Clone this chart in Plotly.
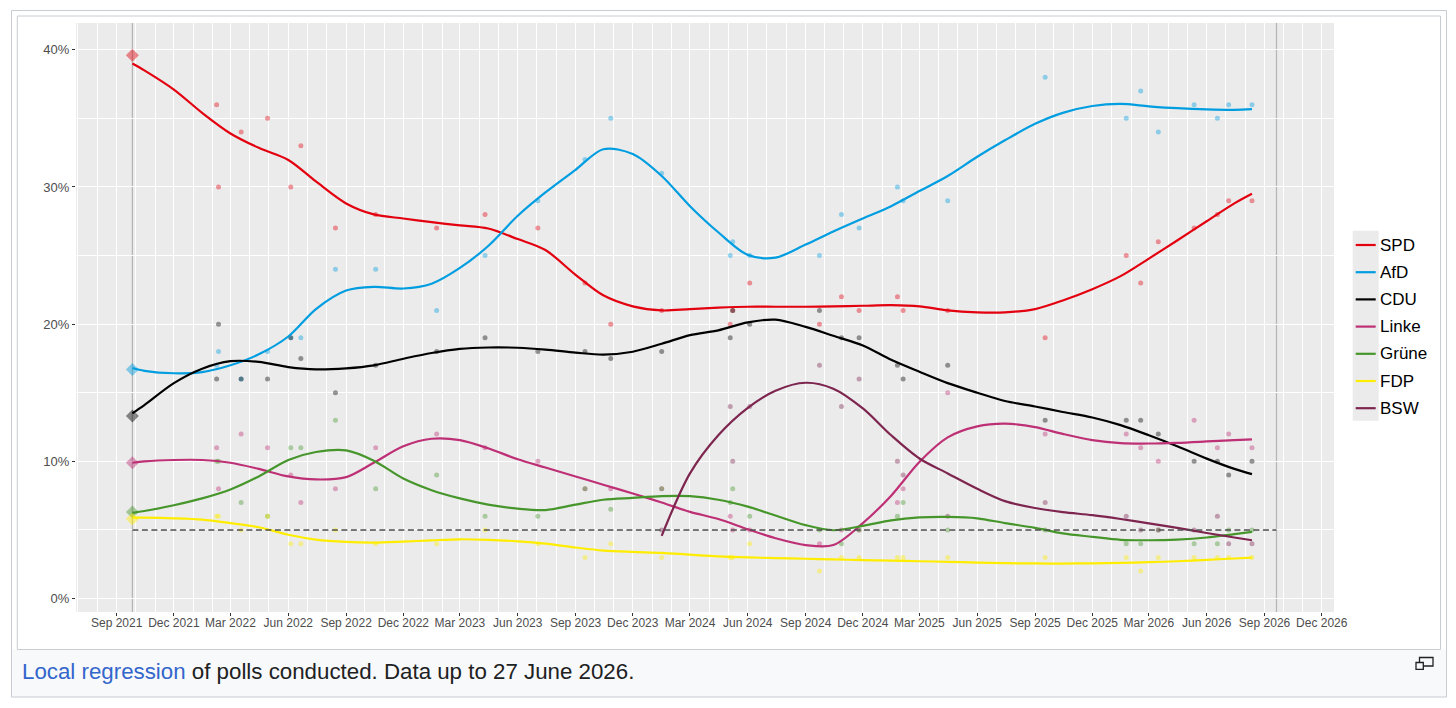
import plotly.graph_objects as go

# values
parties = ["SPD", "AfD", "CDU", "Linke", "Grüne", "FDP", "BSW"]
party_colors = ["#E3000F", "#009EE0", "#000000", "#BE3075", "#46962B", "#FFED00", "#7D254F"]

election_dates = ["2021-09-26", "2026-09-20"]
result_2021 = [39.6, 16.7, 13.3, 9.9, 6.3, 5.8, None]
threshold = 5

y_ticks = [0, 10, 20, 30, 40]
y_ticktext = ["0%", "10%", "20%", "30%", "40%"]

poll_dates = ["2022-02-07", "2022-02-10", "2022-03-18", "2022-04-29", "2022-06-05", "2022-06-21",
              "2022-08-15", "2022-10-18", "2023-01-23", "2023-04-10", "2023-07-03", "2023-09-16",
              "2023-10-27", "2024-01-16", "2024-05-04", "2024-05-08", "2024-06-04", "2024-09-23",
              "2024-10-28", "2024-11-25", "2025-01-25", "2025-02-03", "2025-04-15", "2025-09-17",
              "2026-01-24", "2026-02-16", "2026-03-16", "2026-05-12", "2026-06-18", "2026-07-06",
              "2026-08-12"]
poll_spd = [36, 30, 34, 35, 30, 33, 27, 28, 27, 28, 27, 23, 20, 21, 20, 21, 23, 20, 22, 21,
            22, 21, 21, 19, 25, 23, 26, 27, 28, 29, 29]
poll_afd = [17, 18, 16, 18, 19, 19, 24, 24, 21, 25, 29, 32, 35, 31, 25, 26, 25, 25, 28, 27,
            30, 29, 29, 38, 35, 37, 34, 36, 35, 36, 36]
poll_cdu = [16, 20, 16, 16, 19, 17.5, 15, 17, 18, 19, 18, 18, 17.5, 18, 19, 21, 20, 21, 19, 19,
            17, 16, 17, 13, 13, 13, 12, 10, 10, 9, 10]
poll_linke = [11, 8, 12, 11, 9, 7, 8, 11, 12, 11, 10, 8, 8, 8, 6, 5, 5, 4, 5, 5,
              7, 8, 15, 12, 12, 11, 10, 13, 11, 12, 11]
poll_gruene = [10, 10, 7, 6, 11, 11, 13, 8, 9, 6, 6, 8, 6.5, 8, 7, 8, 6, 5, 4, 5,
               6, 7, 5, 5, 4, 4, 5, 4, 4, 5, 5]
poll_fdp = [6, 6, 5, 6, 4, 4, 5, 4, 4, 5, 4, 3, 4, 3, 3, 3, 4, 2, 3, 3,
            3, 3, 3, 3, 3, 2, 3, 3, 3, 3, 3]
poll_bsw = [None] * 13 + [5, 14, 10, 14, 17, 14, 16, 10, 9, 6, 7, 6, 5, 5, 5, 6, 4, 4]

trend_dates = ["2021-09-26", "2021-10-15", "2021-12-01",
               "2022-01-15", "2022-03-01", "2022-04-15", "2022-06-01", "2022-07-15", "2022-09-01", "2022-10-15", "2022-12-01",
               "2023-01-15", "2023-03-01", "2023-04-15", "2023-06-01", "2023-07-15", "2023-09-01", "2023-10-15", "2023-12-01",
               "2024-01-16", "2024-03-01", "2024-04-15", "2024-06-01", "2024-07-15", "2024-09-01", "2024-10-15", "2024-12-01",
               "2025-01-15", "2025-03-01", "2025-04-15", "2025-06-01", "2025-07-15", "2025-09-01", "2025-10-15", "2025-12-01",
               "2026-01-15", "2026-03-01", "2026-04-15", "2026-06-01", "2026-07-15", "2026-08-12"]
trend_spd = [39.0, 38.5, 37.1, 35.4, 33.9, 32.85, 31.97, 30.4, 28.8, 28.0, 27.7, 27.43, 27.2, 26.97,
             26.2, 25.4, 23.6, 22.1, 21.3, 21.0, 21.1, 21.2, 21.27, 21.27, 21.27, 21.3, 21.34, 21.38,
             21.3, 21.0, 20.86, 20.86, 21.1, 21.73, 22.55, 23.5, 24.78, 26.1, 27.5, 28.8, 29.5]
trend_afd = [16.8, 16.6, 16.42, 16.5, 17.0, 17.8, 19.1, 21.1, 22.45, 22.72, 22.6, 22.95, 24.1, 25.7,
             27.9, 29.6, 31.25, 32.75, 32.4, 30.8, 28.6, 26.7, 25.05, 24.85, 25.8, 26.75, 27.7, 28.6,
             29.7, 30.8, 32.2, 33.4, 34.6, 35.4, 35.9, 36.05, 35.88, 35.74, 35.65, 35.62, 35.67]
trend_cdu = [13.5, 14.1, 15.7, 16.75, 17.3, 17.25, 16.87, 16.7, 16.78, 17.0, 17.48, 17.9, 18.2, 18.3,
             18.28, 18.15, 17.93, 17.78, 17.99, 18.57, 19.2, 19.55, 20.13, 20.33, 19.8, 19.15, 18.45, 17.4,
             16.53, 15.7, 15.0, 14.4, 14.0, 13.6, 13.2, 12.64, 11.9, 11.1, 10.2, 9.45, 9.07]
trend_linke = [9.9, 10.0, 10.1, 10.1, 9.9, 9.45, 8.9, 8.68, 8.85, 9.9, 11.1, 11.65, 11.55, 10.95,
               10.15, 9.55, 8.9, 8.3, 7.66, 7.0, 6.32, 5.8, 5.05, 4.4, 3.9, 3.9, 5.5, 7.5,
               9.96, 11.75, 12.55, 12.75, 12.5, 12.0, 11.55, 11.33, 11.3, 11.35, 11.45, 11.55, 11.6]
trend_gruene = [6.24, 6.38, 6.8, 7.3, 7.95, 8.9, 10.1, 10.68, 10.8, 10.05, 8.75, 7.9, 7.3, 6.85,
                6.55, 6.45, 6.85, 7.2, 7.34, 7.46, 7.46, 7.2, 6.7, 6.05, 5.35, 4.98, 5.3, 5.7,
                5.91, 5.95, 5.85, 5.5, 5.15, 4.75, 4.5, 4.28, 4.25, 4.3, 4.45, 4.7, 4.86]
trend_fdp = [5.9, 5.9, 5.85, 5.75, 5.5, 5.2, 4.65, 4.3, 4.13, 4.08, 4.15, 4.24, 4.32, 4.28,
             4.17, 4.0, 3.72, 3.5, 3.4, 3.33, 3.2, 3.08, 3.0, 2.95, 2.9, 2.86, 2.8, 2.76,
             2.72, 2.68, 2.62, 2.58, 2.56, 2.55, 2.57, 2.6, 2.65, 2.72, 2.82, 2.92, 2.99]
trend_bsw = [None] * 19 + [4.57, 9.12, 11.9, 13.9, 15.15, 15.73, 15.3, 13.86, 11.9, 10.21, 9.12,
                           8.0, 7.1, 6.6, 6.3, 6.08, 5.8, 5.48, 5.15, 4.78, 4.45, 4.25]

caption = "<span style='color:#3366cc'>Local regression</span> of polls conducted. Data up to 27 June 2026."

polls = [poll_spd, poll_afd, poll_cdu, poll_linke, poll_gruene, poll_fdp, poll_bsw]
trends = [trend_spd, trend_afd, trend_cdu, trend_linke, trend_gruene, trend_fdp, trend_bsw]

# the page body has an 8px margin, so the figure is drawn 8px in from the window corner;
# positions below are given in window pixels and converted to paper coordinates
OFF = 8
W, H = 1440, 692
ML, MR, MT, MB = 68, 114, 15, 88
def px(x):
    return (x - OFF - ML) / (W - ML - MR)
def py(y):
    return (H - MB - (y - OFF)) / (H - MT - MB)

fig = go.Figure()

# raw polls
for name, col, vals in zip(parties, party_colors, polls):
    fig.add_trace(go.Scatter(x=poll_dates, y=vals, mode="markers", name=name,
                             marker=dict(color=col, size=5, opacity=0.4),
                             showlegend=False, hoverinfo="skip"))

# last election result
for name, col, res in zip(parties, party_colors, result_2021):
    if res is None:
        continue
    fig.add_trace(go.Scatter(x=[election_dates[0]], y=[res], mode="markers",
                             marker=dict(color=col, size=10, symbol="diamond", opacity=0.45),
                             showlegend=False, hoverinfo="skip"))

# local regression lines
for name, col, vals in zip(parties, party_colors, trends):
    fig.add_trace(go.Scatter(x=trend_dates, y=vals, mode="lines", name=name,
                             line=dict(color=col, width=2.2, shape="spline", smoothing=0.9),
                             showlegend=False))

shapes = []
# frame of the wiki thumbnail
shapes.append(dict(type="rect", xref="paper", yref="paper", x0=px(11.5), x1=px(1446.5),
                   y0=py(697), y1=py(649.5), fillcolor="#f8f9fa", line=dict(width=0), layer="below"))
shapes.append(dict(type="rect", xref="paper", yref="paper", x0=px(11.5), x1=px(1446.5),
                   y0=py(697), y1=py(10.5), line=dict(color="#c8ccd1", width=1)))
shapes.append(dict(type="rect", xref="paper", yref="paper", x0=px(17.3), x1=px(1440.5),
                   y0=py(649.5), y1=py(16), line=dict(color="#c8ccd1", width=1)))
# expand icon
shapes.append(dict(type="rect", xref="paper", yref="paper", x0=px(1419.5), x1=px(1433),
                   y0=py(666), y1=py(657.5), line=dict(color="#202122", width=1.3)))
shapes.append(dict(type="rect", xref="paper", yref="paper", x0=px(1416), x1=px(1423.3),
                   y0=py(669.3), y1=py(662.5), fillcolor="#f8f9fa", line=dict(color="#202122", width=1.3)))

# election day markers and 5 % threshold
for d in election_dates:
    shapes.append(dict(type="line", xref="x", yref="paper", x0=d, x1=d, y0=0, y1=1,
                       line=dict(color="#b5b5b5", width=1.2), layer="between"))
shapes.append(dict(type="line", xref="x", yref="y", x0=election_dates[0], x1=election_dates[1],
                   y0=threshold, y1=threshold, line=dict(color="#4d4d4d", width=1.5, dash="6px,3.5px"),
                   layer="above"))

# legend (ggplot style)
shapes.append(dict(type="rect", xref="paper", yref="paper", x0=px(1352.7), x1=px(1378.7),
                   y0=py(420.7), y1=py(230.7), fillcolor="#ebebeb", line=dict(width=0)))
annotations = []
for i, (name, col) in enumerate(zip(parties, party_colors)):
    yy = 245 + i * 27.2
    shapes.append(dict(type="line", xref="paper", yref="paper", x0=px(1355.7), x1=px(1375.7),
                       y0=py(yy), y1=py(yy), line=dict(color=col, width=2.2)))
    annotations.append(dict(text=name, xref="paper", yref="paper", x=px(1377.5), y=py(yy),
                            xanchor="left", yanchor="middle", showarrow=False,
                            font=dict(size=17, color="#000000")))

annotations.append(dict(text=caption, xref="paper", yref="paper", x=px(20.3), y=py(671),
                        xanchor="left", yanchor="middle", showarrow=False,
                        font=dict(size=22.3, color="#202122")))

fig.update_layout(
    width=W, height=H,
    margin=dict(l=ML, r=MR, t=MT, b=MB, pad=0),
    paper_bgcolor="white",
    plot_bgcolor="#ebebeb",
    font=dict(family="Liberation Sans, Arial, sans-serif"),
    showlegend=False,
    shapes=shapes,
    annotations=annotations,
    xaxis=dict(type="date", range=["2021-06-28 07:00", "2026-12-20 12:00"],
               tick0="2021-09-01", dtick="M3", tickformat="%b %Y",
               showgrid=True, gridcolor="white", gridwidth=1.3,
               minor=dict(dtick="M1", showgrid=True, gridcolor="white", gridwidth=0.6),
               ticks="outside", ticklen=3, tickcolor="#333333", tickwidth=1,
               ticklabelstandoff=-3,
               tickfont=dict(size=12, color="#4d4d4d"), zeroline=False, showline=False),
    yaxis=dict(range=[-0.98, 41.95], tickmode="array", tickvals=y_ticks, ticktext=y_ticktext,
               showgrid=True, gridcolor="white", gridwidth=1.3,
               minor=dict(tickmode="linear", tick0=0, dtick=5, showgrid=True, gridcolor="white", gridwidth=0.6),
               ticks="outside", ticklen=3, tickcolor="#333333", tickwidth=1,
               tickfont=dict(size=13, color="#4d4d4d"), zeroline=False, showline=False),
)

fig.write_html("out.html")
